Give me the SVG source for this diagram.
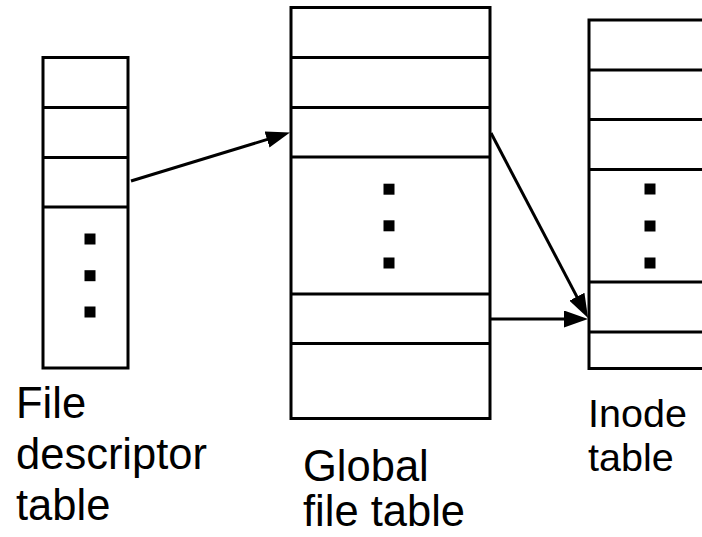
<svg xmlns="http://www.w3.org/2000/svg" width="702" height="537" viewBox="0 0 702 537">
<style>
.box{fill:#fff;stroke:#000;stroke-width:3}
.row{stroke:#000;stroke-width:3}
.dot{fill:#000}
.conn{stroke:#000;stroke-width:3;fill:none}
.lbl{font-family:"Liberation Sans",Arial,Helvetica,sans-serif;font-size:43.5px;fill:#000}
.sm{font-size:39.5px}
</style>
<defs>
<marker id="ah" markerUnits="userSpaceOnUse" markerWidth="24" markerHeight="17" refX="14" refY="8.5" orient="auto" viewBox="0 0 24 17">
<path d="M0,0 L24,8.5 L0,17 z" fill="#000"/>
</marker>
</defs>
<rect width="702" height="537" fill="#fff"/>
<g id="fd-table">
<rect class="box" x="43" y="57.5" width="85" height="310.5"/>
<line class="row" x1="43" y1="107.5" x2="128" y2="107.5"/>
<line class="row" x1="43" y1="157.5" x2="128" y2="157.5"/>
<line class="row" x1="43" y1="207" x2="128" y2="207"/>
<rect class="dot" x="84.5" y="233.5" width="11" height="11"/>
<rect class="dot" x="84.5" y="270.2" width="11" height="11"/>
<rect class="dot" x="84.5" y="306.5" width="11" height="11"/>
<text class="lbl" x="16" y="418">File</text>
<text class="lbl" x="16" y="469">descriptor</text>
<text class="lbl" x="16" y="520">table</text>
</g>
<g id="global-table">
<rect class="box" x="291" y="7.5" width="199" height="411"/>
<line class="row" x1="291" y1="57.5" x2="490" y2="57.5"/>
<line class="row" x1="291" y1="107.5" x2="490" y2="107.5"/>
<line class="row" x1="291" y1="157" x2="490" y2="157"/>
<line class="row" x1="291" y1="294" x2="490" y2="294"/>
<line class="row" x1="291" y1="343.5" x2="490" y2="343.5"/>
<rect class="dot" x="383.5" y="183.7" width="11" height="11"/>
<rect class="dot" x="383.5" y="220.3" width="11" height="11"/>
<rect class="dot" x="383.5" y="257.5" width="11" height="11"/>
<text class="lbl" x="303" y="481">Global</text>
<text class="lbl" x="303" y="526">file table</text>
</g>
<g id="inode-table">
<rect class="box" x="589" y="20" width="130" height="348.5"/>
<line class="row" x1="589" y1="70" x2="702" y2="70"/>
<line class="row" x1="589" y1="119.5" x2="702" y2="119.5"/>
<line class="row" x1="589" y1="169.5" x2="702" y2="169.5"/>
<line class="row" x1="589" y1="282" x2="702" y2="282"/>
<line class="row" x1="589" y1="332" x2="702" y2="332"/>
<rect class="dot" x="644.5" y="183.5" width="11" height="11"/>
<rect class="dot" x="644.5" y="220.5" width="11" height="11"/>
<rect class="dot" x="644.5" y="257.5" width="11" height="11"/>
<text class="lbl sm" x="588" y="427">Inode</text>
<text class="lbl sm" x="588" y="471">table</text>
</g>
<g id="connectors">
<line class="conn" x1="131" y1="181" x2="280.4" y2="135.4" marker-end="url(#ah)"/>
<line class="conn" x1="491" y1="133" x2="583.4" y2="309.1" marker-end="url(#ah)"/>
<line class="conn" x1="491" y1="319" x2="578" y2="319" marker-end="url(#ah)"/>
</g>
</svg>
